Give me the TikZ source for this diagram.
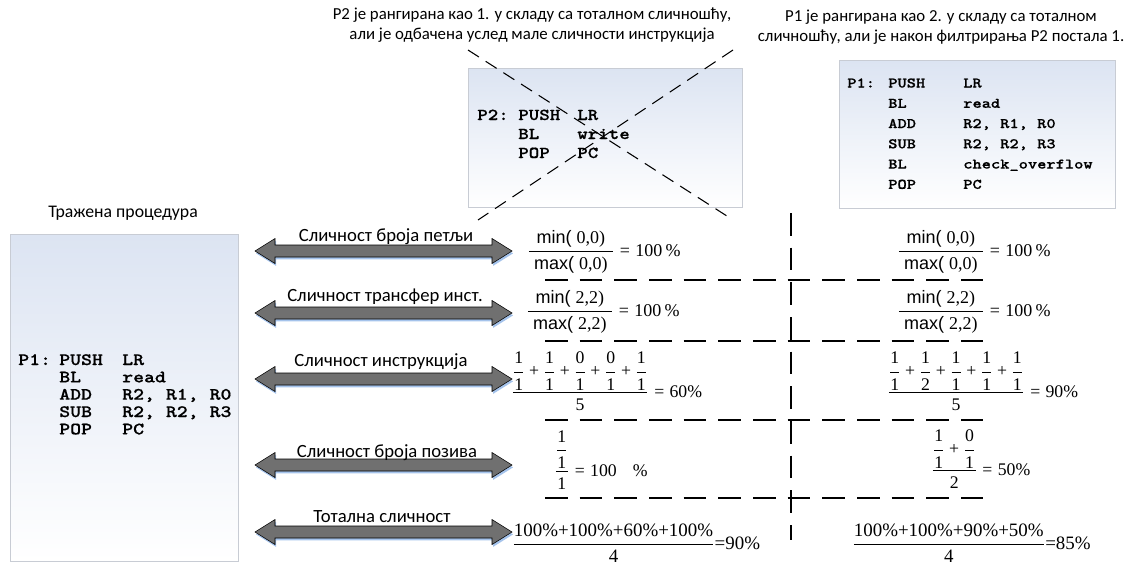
\documentclass[tikz,border=0pt]{standalone}
\usepackage{amsmath}
\usepackage[no-math]{fontspec}
\setmainfont{Liberation Serif}
\newfontfamily\labelfont{Carlito}
\newfontfamily\arialfont{Liberation Sans}
\newfontfamily\codefont{lmmonolt10-bold}[Extension=.otf, FakeStretch=1.2, FakeBold=0.6]
\newfontfamily\mathserif{Liberation Serif}[NFSSFamily=libserif]
% digits, operators and brackets of the formulas in the serif face
\DeclareSymbolFont{operators}{TU}{libserif}{m}{n}
\usetikzlibrary{shadows}

\definecolor{arrowgray}{RGB}{112,112,112}
\definecolor{arrowshadow}{RGB}{165,195,235}
\definecolor{boxtop}{RGB}{220,228,242}
\definecolor{boxedge}{RGB}{200,204,212}

% sans-serif operator names inside formulas
\newcommand\sansop[1]{\text{\arialfont #1}}
% min/max ratio with padded fraction bar
\newcommand\ratio[1]{\dfrac{\hspace{4pt}\sansop{min( }\text{#1)}\hspace{4pt}}%
                          {\hspace{4pt}\sansop{max( }\text{#1)}\hspace{4pt}}}

\begin{document}
\begin{tikzpicture}[x=0.75pt,y=-0.75pt,
  note/.style={align=center, inner sep=0pt, font=\labelfont\fontsize{12.6}{15}\selectfont},
  arrowlabel/.style={inner sep=0pt, font=\labelfont\fontsize{14}{16}\selectfont},
  codebox/.style={draw=boxedge, line width=0.6pt, top color=boxtop, bottom color=white,
    anchor=north west, inner sep=0pt},
  codetext/.style={anchor=base west, inner sep=0pt},
  arrowbody/.style={draw=black, line width=0.4pt, fill=arrowgray, line join=miter,
    general shadow={fill=arrowshadow, shadow xshift=0.8pt, shadow yshift=-1.8pt}},
  pics/simarrow/.style={code={
    \draw[arrowbody] (-128.5,0) -- (-108.5,-12.5) -- (-108.5,-6) -- (108.5,-6)
      -- (108.5,-12.5) -- (128.5,0) -- (108.5,12.5) -- (108.5,6) -- (-108.5,6)
      -- (-108.5,12.5) -- cycle;}},
  formula/.style={anchor=base west, inner sep=0pt},
  grid line/.style={line width=1pt, dash pattern=on 16.9pt off 9.1pt},
  cross line/.style={line width=0.8pt, dash pattern=on 9.75pt off 6pt}]
\useasboundingbox (0,0) rectangle (1144,564);

% ---- captions ----
\node[note] (noteP2) at (532,25) {P2 је рангирана као 1. у складу са тоталном сличношћу,\\али је одбачена услед мале сличности инструкција};
\node[note] (noteP1) at (941,27) {P1 је рангирана као 2. у складу са тоталном\\сличношћу, али је након филтрирања P2 постала 1.};
\node[note, font=\labelfont\fontsize{13.3}{15}\selectfont] (noteQ) at (123,213) {Тражена процедура};

% ---- code boxes ----
\node[codebox, minimum width=171pt, minimum height=245.25pt] (boxQ) at (10,234) {};
\node[codebox, minimum width=205.5pt, minimum height=104.25pt] (boxP2) at (468,68) {};
\node[codebox, minimum width=207pt, minimum height=111pt] (boxP1) at (839,60) {};

\node[codetext, font=\fontsize{13}{13}\codefont] (codeQ) at (18,365)
  {\begin{tabular}[t]{@{}p{30.75pt}@{}p{47.25pt}@{}l@{}}
   P1: & PUSH & LR\\
       & BL   & read\\
       & ADD  & R2, R1, R0\\
       & SUB  & R2, R2, R3\\
       & POP  & PC
   \end{tabular}};
\node[codetext, font=\fontsize{12.5}{14.25}\codefont] (codeP2) at (477,120)
  {\begin{tabular}[t]{@{}p{30.75pt}@{}p{44.25pt}@{}l@{}}
   P2: & PUSH & LR\\
       & BL   & write\\
       & POP  & PC
   \end{tabular}};
\node[codetext, font=\fontsize{11}{15.2}\codefont] (codeP1) at (847,87.5)
  {\begin{tabular}[t]{@{}p{30.75pt}@{}p{56.25pt}@{}l@{}}
   P1: & PUSH & LR\\
       & BL   & read\\
       & ADD  & R2, R1, R0\\
       & SUB  & R2, R2, R3\\
       & BL   & check\_overflow\\
       & POP  & PC
   \end{tabular}};

% ---- P2 is crossed out ----
\coordinate (crossA1) at (468,50);
\coordinate (crossA2) at (730,218);
\coordinate (crossB1) at (733,50);
\coordinate (crossB2) at (478,220);
\draw[cross line] (crossA1) -- (crossA2);
\draw[cross line] (crossB1) -- (crossB2);

% ---- similarity arrows ----
\pic (arrLoops) at (383.5,251) {simarrow};
\pic (arrXfer)  at (383.5,313) {simarrow};
\pic (arrInstr) at (383.5,379) {simarrow};
\pic (arrCalls) at (383.5,465) {simarrow};
\pic (arrTotal) at (383.5,532) {simarrow};
\node[arrowlabel] (lblLoops) at (386,237) {Сличност броја петљи};
\node[arrowlabel] (lblXfer)  at (385,297) {Сличност трансфер инст.};
\node[arrowlabel] (lblInstr) at (381,362) {Сличност инструкција};
\node[arrowlabel] (lblCalls) at (387,453) {Сличност броја позива};
\node[arrowlabel] (lblTotal) at (382,517) {Тотална сличност};

% ---- table grid ----
\coordinate (gridTop) at (791,213);
\coordinate (gridBot) at (791,540);
\draw[grid line] (gridTop) -- (gridBot);
\foreach \gy [count=\gi] in {280,341,420,498}{
  \coordinate (rowL\gi) at (545,\gy);
  \coordinate (rowR\gi) at (983,\gy);
  \draw[grid line] (rowL\gi) -- (rowR\gi);
}

% ---- formulas, P1 (left column) and P2 (right column) ----
\node[formula, font=\fontsize{13.5}{15}\selectfont] (fLoopsL) at (527,256)
  {$\ratio{0,0} = 100\,\%$};
\node[formula, font=\fontsize{13.5}{15}\selectfont] (fLoopsR) at (897,256)
  {$\ratio{0,0} = 100\,\%$};
\node[formula, font=\fontsize{13.5}{15}\selectfont] (fXferL) at (526,316)
  {$\ratio{2,2} = 100\,\%$};
\node[formula, font=\fontsize{13.5}{15}\selectfont] (fXferR) at (897,316)
  {$\ratio{2,2} = 100\,\%$};
\node[formula, font=\fontsize{13.3}{15}\selectfont] (fInstrL) at (511,397.5)
  {$\dfrac{\dfrac11+\dfrac11+\dfrac01+\dfrac01+\dfrac11}{5} = 60\%$};
\node[formula, font=\fontsize{13.3}{15}\selectfont] (fInstrR) at (887,397.5)
  {$\dfrac{\dfrac11+\dfrac12+\dfrac11+\dfrac11+\dfrac11}{5} = 90\%$};
\node[formula, font=\fontsize{13.3}{15}\selectfont] (fCallsL) at (554,476)
  {$\dfrac{\dfrac11}{1} = 100\;\;\;\%$};
\node[formula, font=\fontsize{13.3}{15}\selectfont] (fCallsR) at (931,475.5)
  {$\dfrac{\dfrac11+\dfrac01}{2} = 50\%$};
\node[formula, font=\fontsize{14.2}{16}\selectfont] (fTotalL) at (512,549)
  {$\dfrac{100\%{+}100\%{+}60\%{+}100\%}{4}{=}90\%$};
\node[formula, font=\fontsize{14.2}{16}\selectfont] (fTotalR) at (852,549)
  {$\dfrac{100\%{+}100\%{+}90\%{+}50\%}{4}{=}85\%$};
\end{tikzpicture}
\end{document}
